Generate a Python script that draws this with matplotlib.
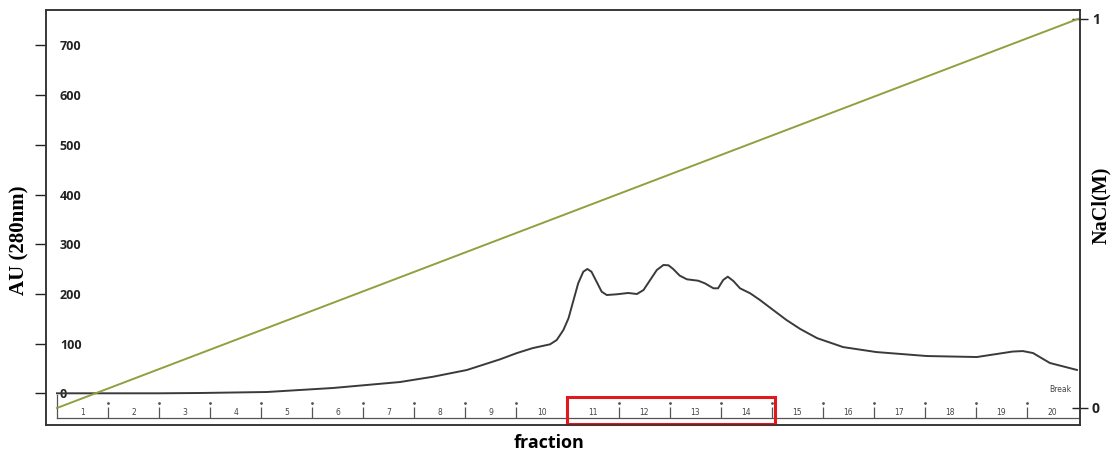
import matplotlib
matplotlib.use("Agg")
import matplotlib.pyplot as plt
from matplotlib.patches import Rectangle

# chromatogram (x in fraction units, y in AU at 280 nm)
elution_frac = [0.0, 1.0, 2.0, 2.80, 4.11, 5.41, 6.72, 7.37, 8.03, 8.68, 9.01, 9.32,
                9.66, 9.79, 9.92, 10.02, 10.11, 10.21, 10.31, 10.39, 10.47, 10.57,
                10.67, 10.77, 10.96, 11.19, 11.36, 11.49, 11.62, 11.75, 11.88,
                11.98, 12.07, 12.20, 12.34, 12.56, 12.69, 12.86, 12.95, 13.05,
                13.14, 13.25, 13.38, 13.58, 13.77, 14.03, 14.29, 14.56, 14.89,
                15.40, 16.05, 17.04, 18.02, 18.53, 18.72, 18.92, 19.12, 19.45, 19.98]
au_280 = [0, 0, 0, 0.6, 2.6, 10.7, 22.7, 33.4, 46.9, 68.4, 81, 91,
          98.6, 107.3, 127.4, 150.9, 184.3, 221.4, 244.7, 250.2, 244.7, 224.6,
          204.5, 197.8, 199.2, 201.9, 199.8, 207.9, 228.0, 248.1, 258.2,
          257.6, 250.2, 236.7, 229.4, 226.6, 221.4, 211.3, 211.3, 228.0,
          234.7, 226.0, 211.3, 201.2, 187.8, 167.6, 147.5, 129.4, 111,
          93, 83, 75, 73, 81, 84, 85, 81, 61, 47]

# linear NaCl gradient
grad_frac = [0, 20]
grad_nacl = [0.0, 1.0]

fractions = list(range(1, 21))
boxed = (10, 14)  # fractions highlighted by the red box (11-14)

au_ticks = [0, 100, 200, 300, 400, 500, 600, 700]
nacl_ticks = [0, 1]

fig = plt.figure(figsize=(11.18, 4.53), dpi=100)
ax = fig.add_axes([46 / 1118, 28 / 453, 1034 / 1118, 415 / 453])
ax.set_xlim(-0.215, 20.04)
ax.set_ylim(-63.8, 771.4)

ax.plot(elution_frac, au_280, color="#3a3a3a", lw=1.4, zorder=3,
        solid_joinstyle="round")

# fraction collector ruler along the bottom
ax.plot([0, 20], [-49.9, -49.9], color="#555555", lw=0.9)
ax.plot([0, 0], [-3, -49.9], color="#555555", lw=0.9)
ax.vlines(fractions[:-1], -27.6, -49.9, color="#555555", lw=0.9)
ax.plot(fractions[:-1], [-19.5] * 19, ls="none", marker=".", ms=2, color="#555555")
for f in fractions:
    ax.text(f - 0.5, -39.6, str(f), fontsize=5.5, color="#444444",
            ha="center", va="center", family="DejaVu Sans")
ax.text(19.65, -1, "Break", fontsize=5.5, color="#444444", ha="center", va="bottom")

ax.add_patch(Rectangle((boxed[0] - 0.01, -61.8), boxed[1] - boxed[0] + 0.07, 54.4,
                       fill=False, ec="#e0191e", lw=2.2, zorder=5, clip_on=False))

ax.set_xticks([])
ax.set_yticks(au_ticks)
ax.set_yticklabels([str(t) for t in au_ticks])
ax.tick_params(axis="y", direction="out", length=8, width=1, pad=-18, labelsize=9,
               colors="#222222")
for lbl in ax.get_yticklabels():
    lbl.set_horizontalalignment("left")
    lbl.set_family("Open Sans")
    lbl.set_fontweight("bold")
for s in ax.spines.values():
    s.set_color("#333333")
    s.set_linewidth(1.1)

ax2 = ax.twinx()
ax2.set_ylim(-0.0437, 1.023)
ax2.plot(grad_frac, grad_nacl, color="#929f3e", lw=1.4, zorder=2)
ax2.set_yticks(nacl_ticks)
ax2.set_yticklabels([str(t) for t in nacl_ticks])
ax2.tick_params(axis="y", direction="inout", length=11, width=1, pad=3, labelsize=10,
                colors="#222222")
for lbl in ax2.get_yticklabels():
    lbl.set_family("Open Sans")
    lbl.set_fontweight("bold")
for s in ax2.spines.values():
    s.set_color("#333333")
    s.set_linewidth(1.1)

fig.text(19 / 1118, 1 - 240 / 453, "AU (280nm)", rotation=90, ha="center", va="center",
         fontsize=15, fontweight="bold", family="Liberation Serif")
fig.text(1101 / 1118, 1 - 205 / 453, "NaCl(M)", rotation=90, ha="center", va="center",
         fontsize=14.5, fontweight="bold", family="Liberation Serif")
fig.text(549 / 1118, 1 - 443 / 453, "fraction", ha="center", va="center",
         fontsize=13, fontweight="bold", family="Open Sans")

fig.savefig("out.png", dpi=100)
